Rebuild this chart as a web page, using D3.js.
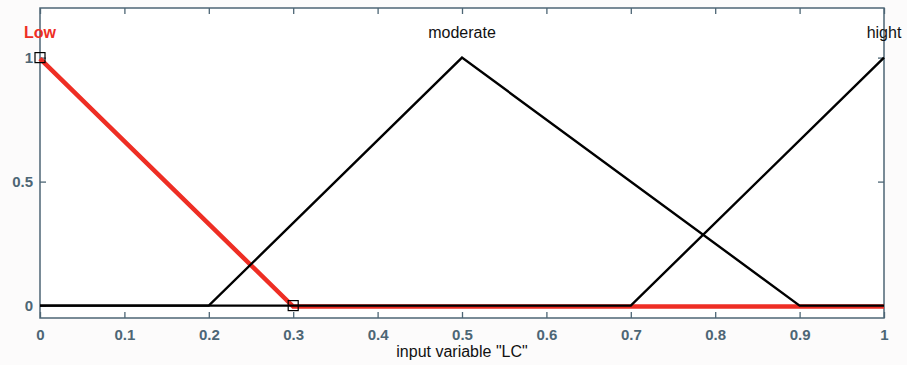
<!DOCTYPE html>
<html>
<head>
<meta charset="utf-8">
<script src="https://cdn.jsdelivr.net/npm/d3@7"></script>
<style>
  body { margin: 0; background: #fcfbfb; }
  text { font-family: "Liberation Sans", Arial, sans-serif; }
</style>
</head>
<body>
<script>
var svgWidth = 907;
var svgHeight = 365;

// membership functions of input variable "LC"
var mfNames = ["Low", "moderate", "hight"];
var lowX = [0, 0, 0.3, 1];
var lowY = [1, 1, 0, 0];
var moderateX = [0, 0.2, 0.5, 0.9, 1];
var moderateY = [0, 0, 1, 0, 0];
var hightX = [0, 0.7, 1, 1];
var hightY = [0, 0, 1, 1];
var peakX = [0, 0.5, 1];
var xTicks = [0, 0.1, 0.2, 0.3, 0.4, 0.5, 0.6, 0.7, 0.8, 0.9, 1];
var yTicks = [0, 0.5, 1];
var markerX = [0, 0.3];
var markerY = [1, 0];

var margin = {left: 40, right: 23, top: 8, bottom: 47};
var w = svgWidth - margin.left - margin.right;
var h = svgHeight - margin.top - margin.bottom;
var axisColor = "#4d6675";

var svg = d3.select('body').append('svg')
	.attr("width", svgWidth)
	.attr("height", svgHeight);

var g = svg.append("g")
	.attr("transform", "translate(" + margin.left + "," + margin.top + ")");

var x = d3.scaleLinear().domain([0, 1]).range([0, w]);
var y = d3.scaleLinear().domain([-0.05, 1.2]).range([h, 0]);

g.append("rect")
	.attr("width", w)
	.attr("height", h)
	.attr("fill", "#ffffff");

function styleAxis(a){
	a.select(".domain").remove();
	a.selectAll(".tick line").attr("stroke", axisColor).attr("stroke-width", 1.3);
	a.selectAll(".tick text")
		.attr("fill", axisColor)
		.style("font-size", "15px")
		.style("font-weight", "bold");
}

// ticks point inwards, mirrored on top and right
g.append("g").attr("transform", "translate(0," + h + ")")
	.call(d3.axisBottom(x).tickValues(xTicks).tickFormat(d3.format("")).tickSizeInner(-6).tickPadding(11))
	.call(styleAxis);
g.append("g")
	.call(d3.axisTop(x).tickValues(xTicks).tickFormat("").tickSizeInner(-6))
	.call(styleAxis);
g.append("g")
	.call(d3.axisLeft(y).tickValues(yTicks).tickFormat(d3.format("")).tickSizeInner(-6).tickPadding(7))
	.call(styleAxis);
g.append("g").attr("transform", "translate(" + w + ",0)")
	.call(d3.axisRight(y).tickValues(yTicks).tickFormat("").tickSizeInner(-6))
	.call(styleAxis);

g.append("rect")
	.attr("width", w)
	.attr("height", h)
	.attr("fill", "none")
	.attr("stroke", axisColor)
	.attr("stroke-width", 1.5);

var line = d3.line()
	.x(function(d){ return x(d[0]); })
	.y(function(d){ return y(d[1]); });

// selected MF (red) underneath, others on top
g.append("path")
	.datum(d3.zip(lowX, lowY))
	.attr("d", line)
	.attr("transform", "translate(0,1)")
	.attr("fill", "none")
	.attr("stroke", "#ee2e24")
	.attr("stroke-width", 4.5);

[d3.zip(moderateX, moderateY), d3.zip(hightX, hightY)].forEach(function(pts){
	g.append("path")
		.datum(pts)
		.attr("d", line)
		.attr("fill", "none")
		.attr("stroke", "#000000")
		.attr("stroke-width", 2.4);
});

g.selectAll("rect.marker")
	.data(d3.zip(markerX, markerY))
	.enter()
	.append("rect")
	.attr("class", "marker")
	.attr("x", function(d){ return x(d[0]) - 5; })
	.attr("y", function(d){ return y(d[1]) - 5; })
	.attr("width", 10)
	.attr("height", 10)
	.attr("fill", "none")
	.attr("stroke", "#000000")
	.attr("stroke-width", 1.2);

g.selectAll("text.mf")
	.data(mfNames)
	.enter()
	.append("text")
	.attr("class", "mf")
	.attr("x", function(d, i){ return x(peakX[i]); })
	.attr("y", y(1.08))
	.attr("text-anchor", "middle")
	.style("font-size", "16px")
	.style("font-weight", function(d, i){ return i === 0 ? "bold" : "normal"; })
	.attr("fill", function(d, i){ return i === 0 ? "#ee2e24" : "#111111"; })
	.text(function(d){ return d; });

svg.append("text")
	.attr("x", margin.left + w / 2)
	.attr("y", 357)
	.attr("text-anchor", "middle")
	.style("font-size", "16px")
	.attr("fill", "#111111")
	.text('input variable "LC"');
</script>
</body>
</html>
